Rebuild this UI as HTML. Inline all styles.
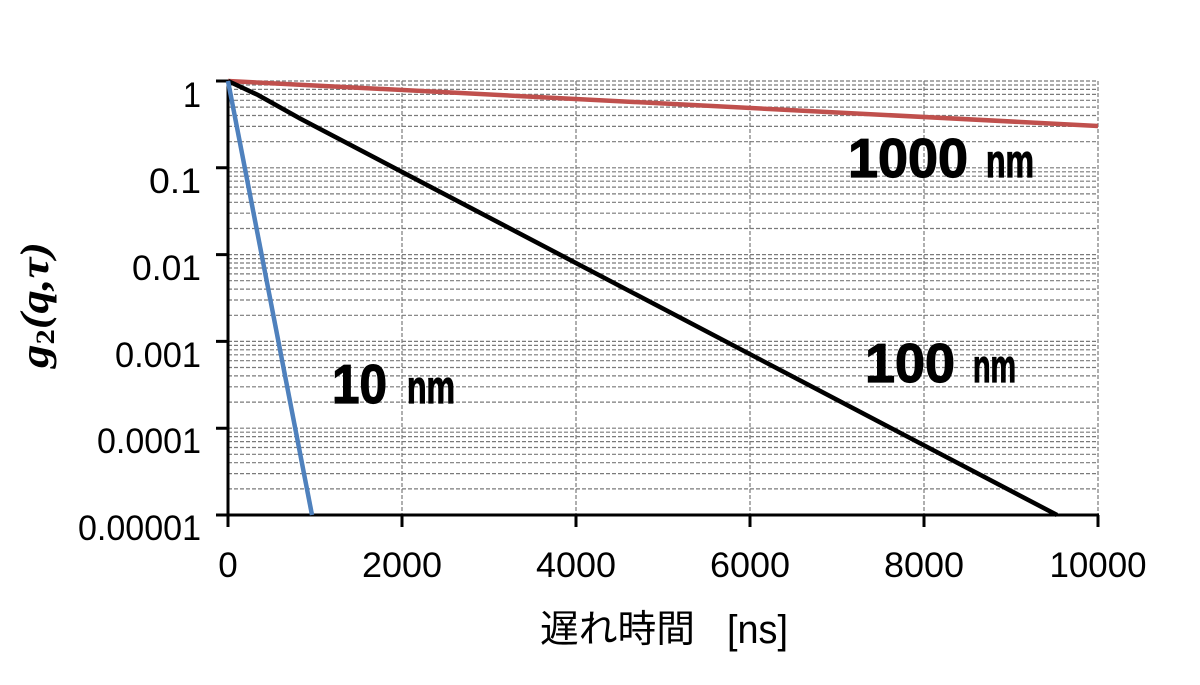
<!DOCTYPE html>
<html>
<head>
<meta charset="utf-8">
<style>
html,body{margin:0;padding:0;background:#fff;}
svg{display:block;}
</style>
</head>
<body>
<svg width="1200" height="685" viewBox="0 0 1200 685" xmlns="http://www.w3.org/2000/svg">
<rect width="1200" height="685" fill="#fff"/>
<!-- horizontal grid -->
<path fill="none" stroke="#7a7a7a" stroke-width="1.2" stroke-dasharray="4 2" d="
M228 81H1098 M228 85.0H1098 M228 89.4H1098 M228 94.4H1098 M228 100.3H1098 M228 107.1H1098 M228 115.5H1098 M228 126.4H1098 M228 141.7H1098
M228 167.8H1098 M228 171.8H1098 M228 176.2H1098 M228 181.2H1098 M228 187.1H1098 M228 193.9H1098 M228 202.3H1098 M228 213.2H1098 M228 228.5H1098
M228 254.6H1098 M228 258.6H1098 M228 263.0H1098 M228 268.0H1098 M228 273.9H1098 M228 280.7H1098 M228 289.1H1098 M228 300.0H1098 M228 315.3H1098
M228 341.4H1098 M228 345.4H1098 M228 349.8H1098 M228 354.8H1098 M228 360.7H1098 M228 367.5H1098 M228 375.9H1098 M228 386.8H1098 M228 402.1H1098
M228 428.2H1098 M228 432.2H1098 M228 436.6H1098 M228 441.6H1098 M228 447.5H1098 M228 454.3H1098 M228 462.7H1098 M228 473.6H1098 M228 488.9H1098
"/>
<!-- vertical grid -->
<path fill="none" stroke="#7a7a7a" stroke-width="1.2" stroke-dasharray="4 2" d="M402 81V515 M576 81V515 M750 81V515 M924 81V515 M1098 81V515"/>

<!-- axes -->
<path fill="none" stroke="#000" stroke-width="3" d="M228 80V527 M216 515H1099
M216 81H228 M216 167.8H228 M216 254.6H228 M216 341.4H228 M216 428.2H228
M402 515V527 M576 515V527 M750 515V527 M924 515V527 M1098 515V527"/>

<!-- series -->
<polyline fill="none" stroke="#C0504D" stroke-width="4.5" points="228,81 1098,126"/>
<polyline fill="none" stroke="#000" stroke-width="4.5" points="228,81 258,95 300,118.5 1057,515"/>
<polyline fill="none" stroke="#4F81BD" stroke-width="4.5" points="228,81 312,515"/>

<!-- y tick labels -->
<g font-family="Liberation Sans, sans-serif" font-size="35" fill="#000" text-anchor="end">
<text x="201" y="107" textLength="18" lengthAdjust="spacingAndGlyphs">1</text>
<text x="201" y="193" textLength="52" lengthAdjust="spacingAndGlyphs">0.1</text>
<text x="201" y="280" textLength="69" lengthAdjust="spacingAndGlyphs">0.01</text>
<text x="201" y="367" textLength="86" lengthAdjust="spacingAndGlyphs">0.001</text>
<text x="201" y="453" textLength="104" lengthAdjust="spacingAndGlyphs">0.0001</text>
<text x="201" y="540" textLength="123" lengthAdjust="spacingAndGlyphs">0.00001</text>
</g>
<!-- x tick labels -->
<g font-family="Liberation Sans, sans-serif" font-size="35" fill="#000" text-anchor="middle">
<text x="228" y="577">0</text>
<text x="402" y="577" textLength="80" lengthAdjust="spacingAndGlyphs">2000</text>
<text x="576" y="577" textLength="80" lengthAdjust="spacingAndGlyphs">4000</text>
<text x="750" y="577" textLength="80" lengthAdjust="spacingAndGlyphs">6000</text>
<text x="924" y="577" textLength="80" lengthAdjust="spacingAndGlyphs">8000</text>
<text x="1098" y="577" textLength="97" lengthAdjust="spacingAndGlyphs">10000</text>
</g>

<!-- x axis title -->
<text x="540" y="642" font-family="Liberation Sans, 'Noto Sans CJK JP', sans-serif" font-size="38" textLength="155" lengthAdjust="spacingAndGlyphs" fill="#000">遅れ時間</text>
<text x="727" y="643" font-family="Liberation Sans, sans-serif" font-size="40" textLength="61" lengthAdjust="spacingAndGlyphs" fill="#000">[ns]</text>

<!-- y axis title -->
<text transform="translate(48,305) rotate(-90)" text-anchor="middle" font-family="Liberation Serif, serif" font-size="40" font-weight="bold" font-style="italic" fill="#000" textLength="126" lengthAdjust="spacingAndGlyphs">g<tspan font-size="26" font-style="normal" dy="6">2</tspan><tspan dy="-6">(q,τ)</tspan></text>

<!-- series labels -->
<g font-family="Liberation Sans, sans-serif" font-weight="bold" fill="#000" stroke="#000" stroke-width="1.2">
<text x="848" y="177" font-size="55" textLength="120" lengthAdjust="spacingAndGlyphs">1000</text>
<text x="986" y="177" font-size="46" textLength="48" lengthAdjust="spacingAndGlyphs">nm</text>
<text x="865" y="382" font-size="55" textLength="90" lengthAdjust="spacingAndGlyphs">100</text>
<text x="973" y="382" font-size="46" textLength="43" lengthAdjust="spacingAndGlyphs">nm</text>
<text x="332" y="403" font-size="55" textLength="55" lengthAdjust="spacingAndGlyphs">10</text>
<text x="407" y="403" font-size="46" textLength="48" lengthAdjust="spacingAndGlyphs">nm</text>
</g>
</svg>
</body>
</html>
